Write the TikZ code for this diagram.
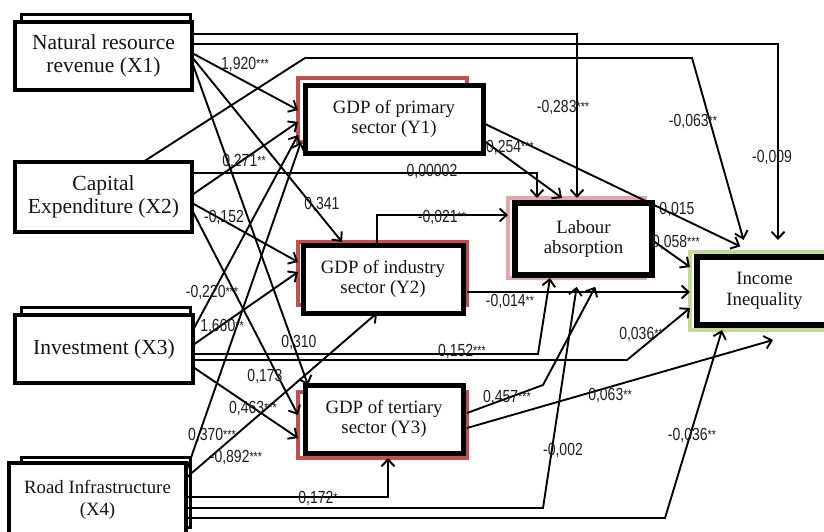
\documentclass[tikz,border=0pt]{standalone}
\usepackage{fontspec}
\setmainfont{Liberation Serif}
\newfontfamily\lblfont[FakeStretch=0.8]{Liberation Sans}
\usetikzlibrary{arrows.meta}
\definecolor{redb}{RGB}{192,80,77}
\definecolor{pinkb}{RGB}{232,165,165}
\definecolor{greenb}{RGB}{195,218,150}
\definecolor{txt}{RGB}{20,20,20}
\definecolor{lbltxt}{RGB}{30,30,30}
\newcommand\sig[1]{\raisebox{1pt}{\fontsize{13.5}{13.5}\selectfont #1}}
\begin{document}
\begin{tikzpicture}[x=1pt,y=-1pt,
  bx/.style={draw, fill=white, inner sep=0pt, outer sep=0pt, anchor=north west, align=center, text=txt},
  xback/.style={bx, line width=3pt},
  xfront/.style={bx, line width=4pt, font=\fontsize{21.5}{23.5}\selectfont},
  yback/.style={bx, draw=redb, line width=3.2pt},
  yfront/.style={bx, line width=5pt, font=\fontsize{18.8}{20.5}\selectfont},
  conn/.style={line width=1.9pt, -{Straight Barb[length=7pt,width=13pt]}},
  lbl/.style={font=\lblfont\fontsize{17.5}{17.5}\selectfont, text=lbltxt, inner sep=0pt},
]
\useasboundingbox (0,0) rectangle (824,531);
\clip (0,0) rectangle (824,531);

% X boxes
\node[xback, minimum width=169pt, minimum height=66pt] (X1b) at (21,14) {};
\node[xfront, minimum width=177pt, minimum height=68pt] (X1) at (15,22) {Natural resource\\revenue (X1)};
\node[xfront, minimum width=177pt, minimum height=70pt] (X2) at (15,162) {Capital\\Expenditure (X2)};
\node[xback, minimum width=169pt, minimum height=66pt] (X3b) at (21,307) {};
\node[xfront, minimum width=178pt, minimum height=68pt] (X3) at (15,315) {Investment (X3)};
\node[xback, minimum width=169pt, minimum height=70pt] (X4b) at (21,457) {};
\node[xfront, minimum width=177pt, minimum height=74pt, font=\fontsize{18.8}{22}\selectfont] (X4) at (9,463) {Road Infrastructure\\(X4)};

% Y boxes
\node[yback, minimum width=169pt, minimum height=64pt] (Y1b) at (298,78) {};
\node[yfront, minimum width=178pt, minimum height=68pt] (Y1) at (305,85) {GDP of primary\\sector (Y1)};
\node[yback, minimum width=169pt, minimum height=63pt] (Y2b) at (298,242) {};
\node[yfront, minimum width=160pt, minimum height=68pt] (Y2) at (303,245) {GDP of industry\\sector (Y2)};
\node[yback, minimum width=169pt, minimum height=66pt] (Y3b) at (298,392) {};
\node[yfront, minimum width=158pt, minimum height=68pt] (Y3) at (305,385) {GDP of tertiary\\sector (Y3)};

% Labour absorption and Income inequality
\node[bx, draw=pinkb, line width=4pt, minimum width=137pt, minimum height=80pt] (LAb) at (508,198) {};
\node[yfront, line width=5.5pt, minimum width=137pt, minimum height=72pt] (LA) at (515,203) {Labour\\absorption};
\node[bx, draw=greenb, line width=3.5pt, minimum width=140pt, minimum height=78pt] (IIb) at (690,252) {};
\node[yfront, line width=6pt, minimum width=135pt, minimum height=68pt] (II) at (697,257) {Income\\Inequality};
\coordinate (e063) at (773,340);

% X1 paths
\draw[conn] (X1.east |- 0,53) -- (Y1b.west |- 0,110);
\draw[conn] (X1.east |- 0,57) -- (Y2b.north -| 342,0);
\draw[conn] (X1.east |- 0,62) -- (Y3.north -| 308,0);
\draw[conn] (X1.east |- 0,34) -| (LAb.north -| 577,0);
\draw[conn, shorten >=12pt] (X1.east |- 0,44) -| (IIb.north -| 778,0);
% X2 paths
\draw[conn] (X2.east |- 0,195) -- (Y1b.west |- 0,122);
\draw[conn] (X2.east |- 0,203) -- (Y2b.west |- 0,262);
\draw[conn] (X2.east |- 0,210) -- (Y3b.west |- 0,415);
\draw[conn] (X2.east |- 0,173) -| (LAb.north -| 537,0);
\draw[conn, shorten >=12.5pt] (X2.north -| 143,0) -- (305,58) -- (692,58) -- (IIb.north -| 747,0);
% X3 paths
\draw[conn] (X3.east |- 0,330) -- (Y1b.west |- 0,135);
\draw[conn] (X3.east |- 0,345) -- (Y2b.west |- 0,272);
\draw[conn] (X3.east |- 0,367) -- (Y3b.west |- 0,438);
\draw[conn] (X3.east |- 0,354) -- (538,354) -- (LAb.south -| 550,0);
\draw[conn] (X3.east |- 0,360) -- (627,360) -- (IIb.west |- 0,308);
% X4 paths
\draw[conn] (X4.east |- 0,472) -- (Y1b.south -| 301,0);
\draw[conn] (X4.east |- 0,478) -- (Y2.south -| 377,0);
\draw[conn] (X4.east |- 0,497) -| (Y3b.south -| 388,0);
\draw[conn, shorten >=9pt] (X4.east |- 0,508) -- (543,508) -- (LAb.south -| 578,0);
\draw[conn] (X4.east |- 0,518) -- (665,518) -- (IIb.south -| 722,0);
% Y paths
\draw[conn] (Y1.east |- 0,140) -- (LAb.north -| 562,0);
\draw[conn, shorten >=13pt] (Y1.east |- 0,123) -- (IIb.north -| 752,0);
\draw[conn] (Y2.north -| 377,0) |- (LAb.west |- 0,215);
\draw[conn] (Y2b.east |- 0,292) -- (IIb.west |- 0,292);
\draw[conn, shorten >=10pt] (Y3b.east |- 0,413) -- (543,385) -- (LAb.south -| 600,0);
\draw[conn] (Y3b.east |- 0,428) -- (e063);
\draw[conn] (LA.east |- 0,240) -- (IIb.west |- 0,267);

% labels
\node[lbl] (l01) at (245,65) {1,920\sig{***}};
\node[lbl] (l02) at (244,162) {0,271\sig{**}};
\node[lbl] (l03) at (322,205) {0,341};
\node[lbl] (l04) at (224,218) {-0,152};
\node[lbl] (l05) at (212,293) {-0,220\sig{***}};
\node[lbl] (l06) at (222,327) {1,660\sig{**}};
\node[lbl] (l07) at (299,343) {0,310};
\node[lbl] (l08) at (265,377) {0,173};
\node[lbl] (l09) at (253,408) {0,463\sig{***}};
\node[lbl] (l10) at (212,435) {0,370\sig{***}};
\node[lbl] (l11) at (236,457) {-0,892\sig{***}};
\node[lbl] (l12) at (318,498) {0,172\sig{*}};
\node[lbl] (l13) at (462,352) {0,152\sig{***}};
\node[lbl] (l14) at (510,302) {-0,014\sig{**}};
\node[lbl] (l15) at (507,397) {0,457\sig{***}};
\node[lbl] (l16) at (610,395) {0,063\sig{**}};
\node[lbl] (l17) at (641,335) {0,036\sig{**}};
\node[lbl] (l18) at (563,450) {-0,002};
\node[lbl] (l19) at (692,435) {-0,036\sig{**}};
\node[lbl] (l20) at (563,108) {-0,283\sig{***}};
\node[lbl] (l21) at (693,122) {-0,063\sig{**}};
\node[lbl] (l22) at (772,158) {-0,009};
\node[lbl] (l23) at (677,210) {0,015};
\node[lbl] (l24) at (676,243) {0,058\sig{***}};
\node[lbl] (l25) at (510,148) {0,254\sig{***}};
\node[lbl] (l26) at (432,172) {0,00002};
\node[lbl] (l27) at (442,218) {-0,021\sig{**}};
\end{tikzpicture}
\end{document}
